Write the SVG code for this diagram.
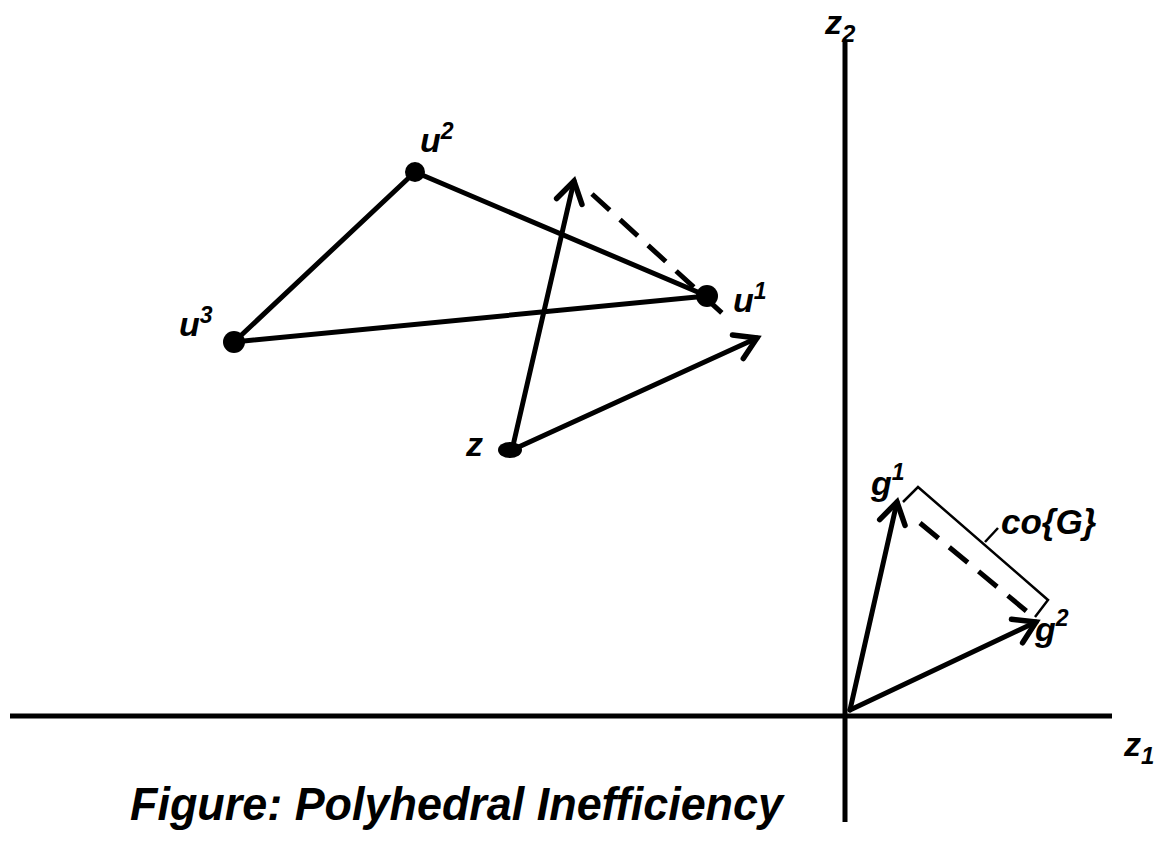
<svg xmlns="http://www.w3.org/2000/svg" width="1168" height="857" viewBox="0 0 1168 857">
<style>
.ln{stroke:#000;stroke-width:5;fill:none;stroke-linecap:round}
.ax{stroke:#000;stroke-width:5;fill:none}
.ds{stroke:#000;stroke-width:5;fill:none;stroke-dasharray:24 14}
.th{stroke:#000;stroke-width:2.5;fill:none}
.lb{font-family:"Liberation Sans",Arial,sans-serif;font-weight:bold;font-style:italic;fill:#000}
</style>
<defs>
<marker id="ar" markerUnits="userSpaceOnUse" markerWidth="40" markerHeight="40" viewBox="-30 -20 40 40" refX="0" refY="0" orient="auto">
<path d="M-21,-13 L0,0 L-21,13" stroke="#000" stroke-width="5.5" fill="none" stroke-linecap="round" stroke-linejoin="miter"/>
</marker>
</defs>
<rect width="1168" height="857" fill="#fff"/>
<g id="axes">
<line class="ax" x1="10" y1="716" x2="1112" y2="716"/>
<line class="ax" x1="845" y1="42" x2="845" y2="822"/>
<text class="lb" x="825" y="34" font-size="34">z<tspan font-size="24" dy="8">2</tspan></text>
<text class="lb" x="1124" y="756" font-size="34">z<tspan font-size="24" dy="8">1</tspan></text>
</g>
<g id="connectors">
<line class="ln" x1="415" y1="172" x2="707" y2="296"/>
<line class="ln" x1="415" y1="172" x2="234" y2="342"/>
<line class="ln" x1="234" y1="342" x2="707" y2="296"/>
<line class="ln" x1="512" y1="450" x2="574" y2="181" marker-end="url(#ar)"/>
<line class="ln" x1="512" y1="450" x2="757" y2="338" marker-end="url(#ar)"/>
<line class="ds" x1="592" y1="194" x2="722" y2="313"/>
<line class="ln" x1="850" y1="710" x2="897" y2="502" marker-end="url(#ar)"/>
<line class="ln" x1="850" y1="710" x2="1036" y2="622" marker-end="url(#ar)"/>
<line class="ds" x1="920" y1="523" x2="1030" y2="614"/>
<polyline class="th" points="903,502 918,487 1048,600 1035,617"/>
<line class="th" x1="985" y1="542" x2="998" y2="528"/>
</g>
<g id="u2"><circle cx="415" cy="172" r="10"/><text class="lb" x="420" y="152" font-size="34">u<tspan font-size="23" dy="-13">2</tspan></text></g>
<g id="u1"><circle cx="707" cy="296" r="11"/><text class="lb" x="733" y="312" font-size="34">u<tspan font-size="23" dy="-13">1</tspan></text></g>
<g id="u3"><circle cx="234" cy="342" r="11"/><text class="lb" x="179" y="336" font-size="34">u<tspan font-size="23" dy="-13">3</tspan></text></g>
<g id="z"><ellipse cx="510" cy="450" rx="12" ry="8"/><text class="lb" x="466" y="456" font-size="34">z</text></g>
<g id="g1"><text class="lb" x="871" y="495" font-size="34">g<tspan font-size="23" dy="-15">1</tspan></text></g>
<g id="g2"><text class="lb" x="1035" y="641" font-size="34">g<tspan font-size="23" dy="-15">2</tspan></text></g>
<g id="coG"><text class="lb" x="1001" y="534" font-size="35">co{G}</text></g>
<g id="caption"><text class="lb" x="130" y="820" font-size="47" textLength="653" lengthAdjust="spacingAndGlyphs">Figure: Polyhedral Inefficiency</text></g>
</svg>
